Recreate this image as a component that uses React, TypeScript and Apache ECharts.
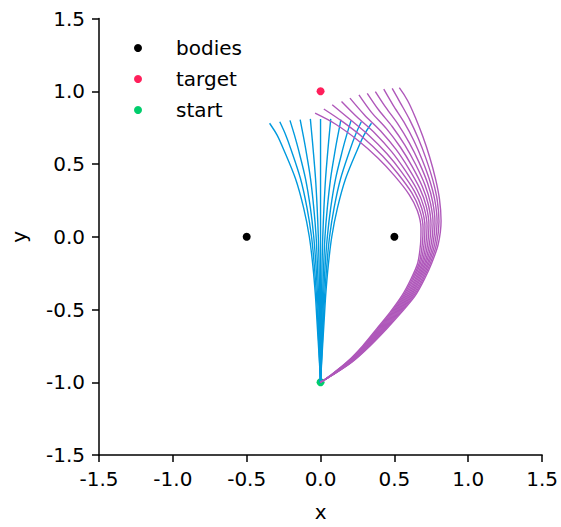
import { useEffect, useRef } from "react";
import * as echarts from "echarts";

// ---- data ----
const axisMin = -1.5;
const axisMax = 1.5;
const tickStep = 0.5;

const bodies: [number, number][] = [[-0.5, 0], [0.5, 0]];
const target: [number, number][] = [[0, 1]];
const start: [number, number][] = [[0, -1]];

// blue trajectories: x at shared y levels, plus end point
const blueY = [-1, -0.8, -0.6, -0.4, -0.2, 0, 0.2, 0.4, 0.6, 0.7];
const blueEndY = [0.78, 0.79, 0.8, 0.805, 0.81, 0.81, 0.81, 0.805, 0.8, 0.79, 0.78];
const blueX: number[][] = [
  [0, -0.011, -0.023, -0.035, -0.052, -0.076, -0.115, -0.17, -0.25, -0.295, -0.345],
  [0, -0.009, -0.018, -0.028, -0.042, -0.061, -0.092, -0.136, -0.2, -0.236, -0.276],
  [0, -0.007, -0.014, -0.021, -0.031, -0.046, -0.069, -0.102, -0.15, -0.177, -0.207],
  [0, -0.004, -0.009, -0.014, -0.021, -0.03, -0.046, -0.068, -0.1, -0.118, -0.138],
  [0, -0.002, -0.005, -0.007, -0.01, -0.015, -0.023, -0.034, -0.05, -0.059, -0.069],
  [0, 0, 0, 0, 0, 0, 0, 0, 0, 0, 0],
  [0, 0.002, 0.005, 0.007, 0.01, 0.015, 0.023, 0.034, 0.05, 0.059, 0.069],
  [0, 0.004, 0.009, 0.014, 0.021, 0.03, 0.046, 0.068, 0.1, 0.118, 0.138],
  [0, 0.007, 0.014, 0.021, 0.031, 0.046, 0.069, 0.102, 0.15, 0.177, 0.207],
  [0, 0.009, 0.018, 0.028, 0.042, 0.061, 0.092, 0.136, 0.2, 0.236, 0.276],
  [0, 0.011, 0.023, 0.035, 0.052, 0.076, 0.115, 0.17, 0.25, 0.295, 0.345],
];

// purple trajectories, lower part: x at shared y levels
const purpleLowY = [-1, -0.95, -0.86, -0.75, -0.63, -0.52, -0.405, -0.29, -0.18, -0.05];
const purpleLowX: number[][] = [
  [0, 0.071, 0.18, 0.285, 0.382, 0.47, 0.551, 0.612, 0.658, 0.677],
  [0, 0.072, 0.183, 0.29, 0.389, 0.478, 0.56, 0.621, 0.668, 0.689],
  [0, 0.073, 0.187, 0.295, 0.396, 0.486, 0.569, 0.63, 0.677, 0.701],
  [0, 0.074, 0.19, 0.3, 0.402, 0.493, 0.578, 0.64, 0.687, 0.713],
  [0, 0.075, 0.194, 0.305, 0.409, 0.501, 0.587, 0.649, 0.696, 0.725],
  [0, 0.077, 0.197, 0.31, 0.416, 0.509, 0.596, 0.658, 0.706, 0.737],
  [0, 0.078, 0.2, 0.315, 0.423, 0.517, 0.605, 0.667, 0.715, 0.749],
  [0, 0.079, 0.204, 0.32, 0.43, 0.525, 0.614, 0.676, 0.725, 0.761],
  [0, 0.08, 0.207, 0.325, 0.436, 0.532, 0.623, 0.686, 0.734, 0.773],
  [0, 0.081, 0.211, 0.33, 0.443, 0.54, 0.632, 0.695, 0.744, 0.785],
  [0, 0.082, 0.214, 0.335, 0.45, 0.548, 0.641, 0.704, 0.753, 0.797],
];
// purple trajectories, upper part: [x, y] points up to the end
const purpleHigh: [number, number][][] = [
  [[0.68, 0.06], [0.655, 0.18], [0.6, 0.29], [0.5, 0.42], [0.39, 0.54], [0.25, 0.665], [0.1, 0.775], [-0.037, 0.849]],
  [[0.694, 0.065], [0.67, 0.188], [0.618, 0.301], [0.524, 0.433], [0.42, 0.555], [0.289, 0.681], [0.149, 0.791], [0.022, 0.878]],
  [[0.707, 0.07], [0.685, 0.196], [0.636, 0.312], [0.548, 0.446], [0.45, 0.57], [0.328, 0.696], [0.198, 0.807], [0.079, 0.907]],
  [[0.721, 0.075], [0.7, 0.204], [0.653, 0.323], [0.571, 0.459], [0.481, 0.585], [0.368, 0.712], [0.247, 0.823], [0.142, 0.93]],
  [[0.734, 0.08], [0.715, 0.212], [0.671, 0.334], [0.595, 0.472], [0.511, 0.6], [0.407, 0.727], [0.296, 0.839], [0.199, 0.953]],
  [[0.748, 0.085], [0.73, 0.22], [0.689, 0.345], [0.619, 0.485], [0.541, 0.615], [0.446, 0.743], [0.345, 0.855], [0.26, 0.975]],
  [[0.762, 0.09], [0.745, 0.228], [0.707, 0.356], [0.643, 0.498], [0.571, 0.63], [0.485, 0.758], [0.394, 0.871], [0.316, 0.986]],
  [[0.775, 0.095], [0.76, 0.236], [0.725, 0.367], [0.667, 0.511], [0.601, 0.645], [0.524, 0.774], [0.443, 0.887], [0.371, 0.998]],
  [[0.789, 0.1], [0.775, 0.244], [0.742, 0.378], [0.69, 0.524], [0.632, 0.66], [0.564, 0.789], [0.492, 0.903], [0.428, 1.014]],
  [[0.802, 0.105], [0.79, 0.252], [0.76, 0.389], [0.714, 0.537], [0.662, 0.675], [0.603, 0.805], [0.541, 0.919], [0.485, 1.02]],
  [[0.816, 0.11], [0.805, 0.26], [0.778, 0.4], [0.738, 0.55], [0.692, 0.69], [0.642, 0.82], [0.59, 0.935], [0.533, 1.025]],
];

const legendNames = ["bodies", "target", "start"];
const colors = {
  bodies: "#000000",
  target: "#FF1F5B",
  start: "#00CD6C",
  blue: "#009ADE",
  purple: "#AF58BA",
};

const FONT = "DejaVu Sans";

export default function App() {
  const ref = useRef<HTMLDivElement>(null);

  useEffect(() => {
    document.body.style.margin = "0";
    if (!ref.current) return;
    const chart = echarts.init(ref.current, null, { renderer: "svg" });

    const blueSeries = blueX.map((xs, k) => {
      const pts: [number, number][] = blueY.map((y, i) => [xs[i], y]);
      pts.push([xs[xs.length - 1], blueEndY[k]]);
      return {
        type: "line" as const,
        data: pts,
        showSymbol: false,
        smooth: 0.3,
        lineStyle: { color: colors.blue, width: 1.4 },
        silent: true,
        z: 3,
      };
    });

    const purpleSeries = purpleLowX.map((xs, j) => {
      const pts: [number, number][] = purpleLowY.map((y, i) => [xs[i], y]);
      return {
        type: "line" as const,
        data: pts.concat(purpleHigh[j]),
        showSymbol: false,
        smooth: 0.3,
        lineStyle: { color: colors.purple, width: 1.4 },
        silent: true,
        z: 4,
      };
    });

    const axisCommon = {
      type: "value" as const,
      min: axisMin,
      max: axisMax,
      interval: tickStep,
      splitLine: { show: false },
      axisLine: { show: true, onZero: false, lineStyle: { color: "#000", width: 1.5 } },
      axisTick: { show: true, length: 7, lineStyle: { color: "#000", width: 1.5 } },
      axisLabel: {
        color: "#000",
        fontSize: 20,
        fontFamily: FONT,
        margin: 14,
        showMinLabel: true,
        showMaxLabel: true,
        formatter: (v: number) => v.toFixed(1),
      },
      nameLocation: "middle" as const,
      nameTextStyle: { color: "#000", fontSize: 20, fontFamily: FONT },
    };

    const dot = (c: string) => ({ color: c, opacity: 1 });

    chart.setOption({
      animation: false,
      backgroundColor: "#ffffff",
      grid: { left: 99, top: 18.5, width: 445, height: 444, containLabel: false },
      xAxis: { ...axisCommon, name: "x", nameGap: 47 },
      yAxis: { ...axisCommon, name: "y", nameGap: 70 },
      legend: {
        data: legendNames,
        orient: "vertical",
        left: 134,
        top: 38,
        padding: 0,
        itemWidth: 8,
        itemHeight: 8,
        itemGap: 11,
        icon: "circle",
        itemStyle: { opacity: 1 },
        textStyle: { color: "#000", fontSize: 20, fontFamily: FONT, lineHeight: 20, padding: [0, 0, 0, 29] },
      },
      series: [
        { name: "bodies", type: "scatter", data: bodies, symbolSize: 8, itemStyle: dot(colors.bodies), z: 2 },
        { name: "target", type: "scatter", data: target, symbolSize: 8, itemStyle: dot(colors.target), z: 2 },
        { name: "start", type: "scatter", data: start, symbolSize: 8, itemStyle: dot(colors.start), z: 2 },
        ...blueSeries,
        ...purpleSeries,
      ],
    });

    return () => chart.dispose();
  }, []);

  return (
    <div
      ref={ref}
      style={{ position: "fixed", left: 0, top: 0, width: 561, height: 527, background: "#fff" }}
    />
  );
}
